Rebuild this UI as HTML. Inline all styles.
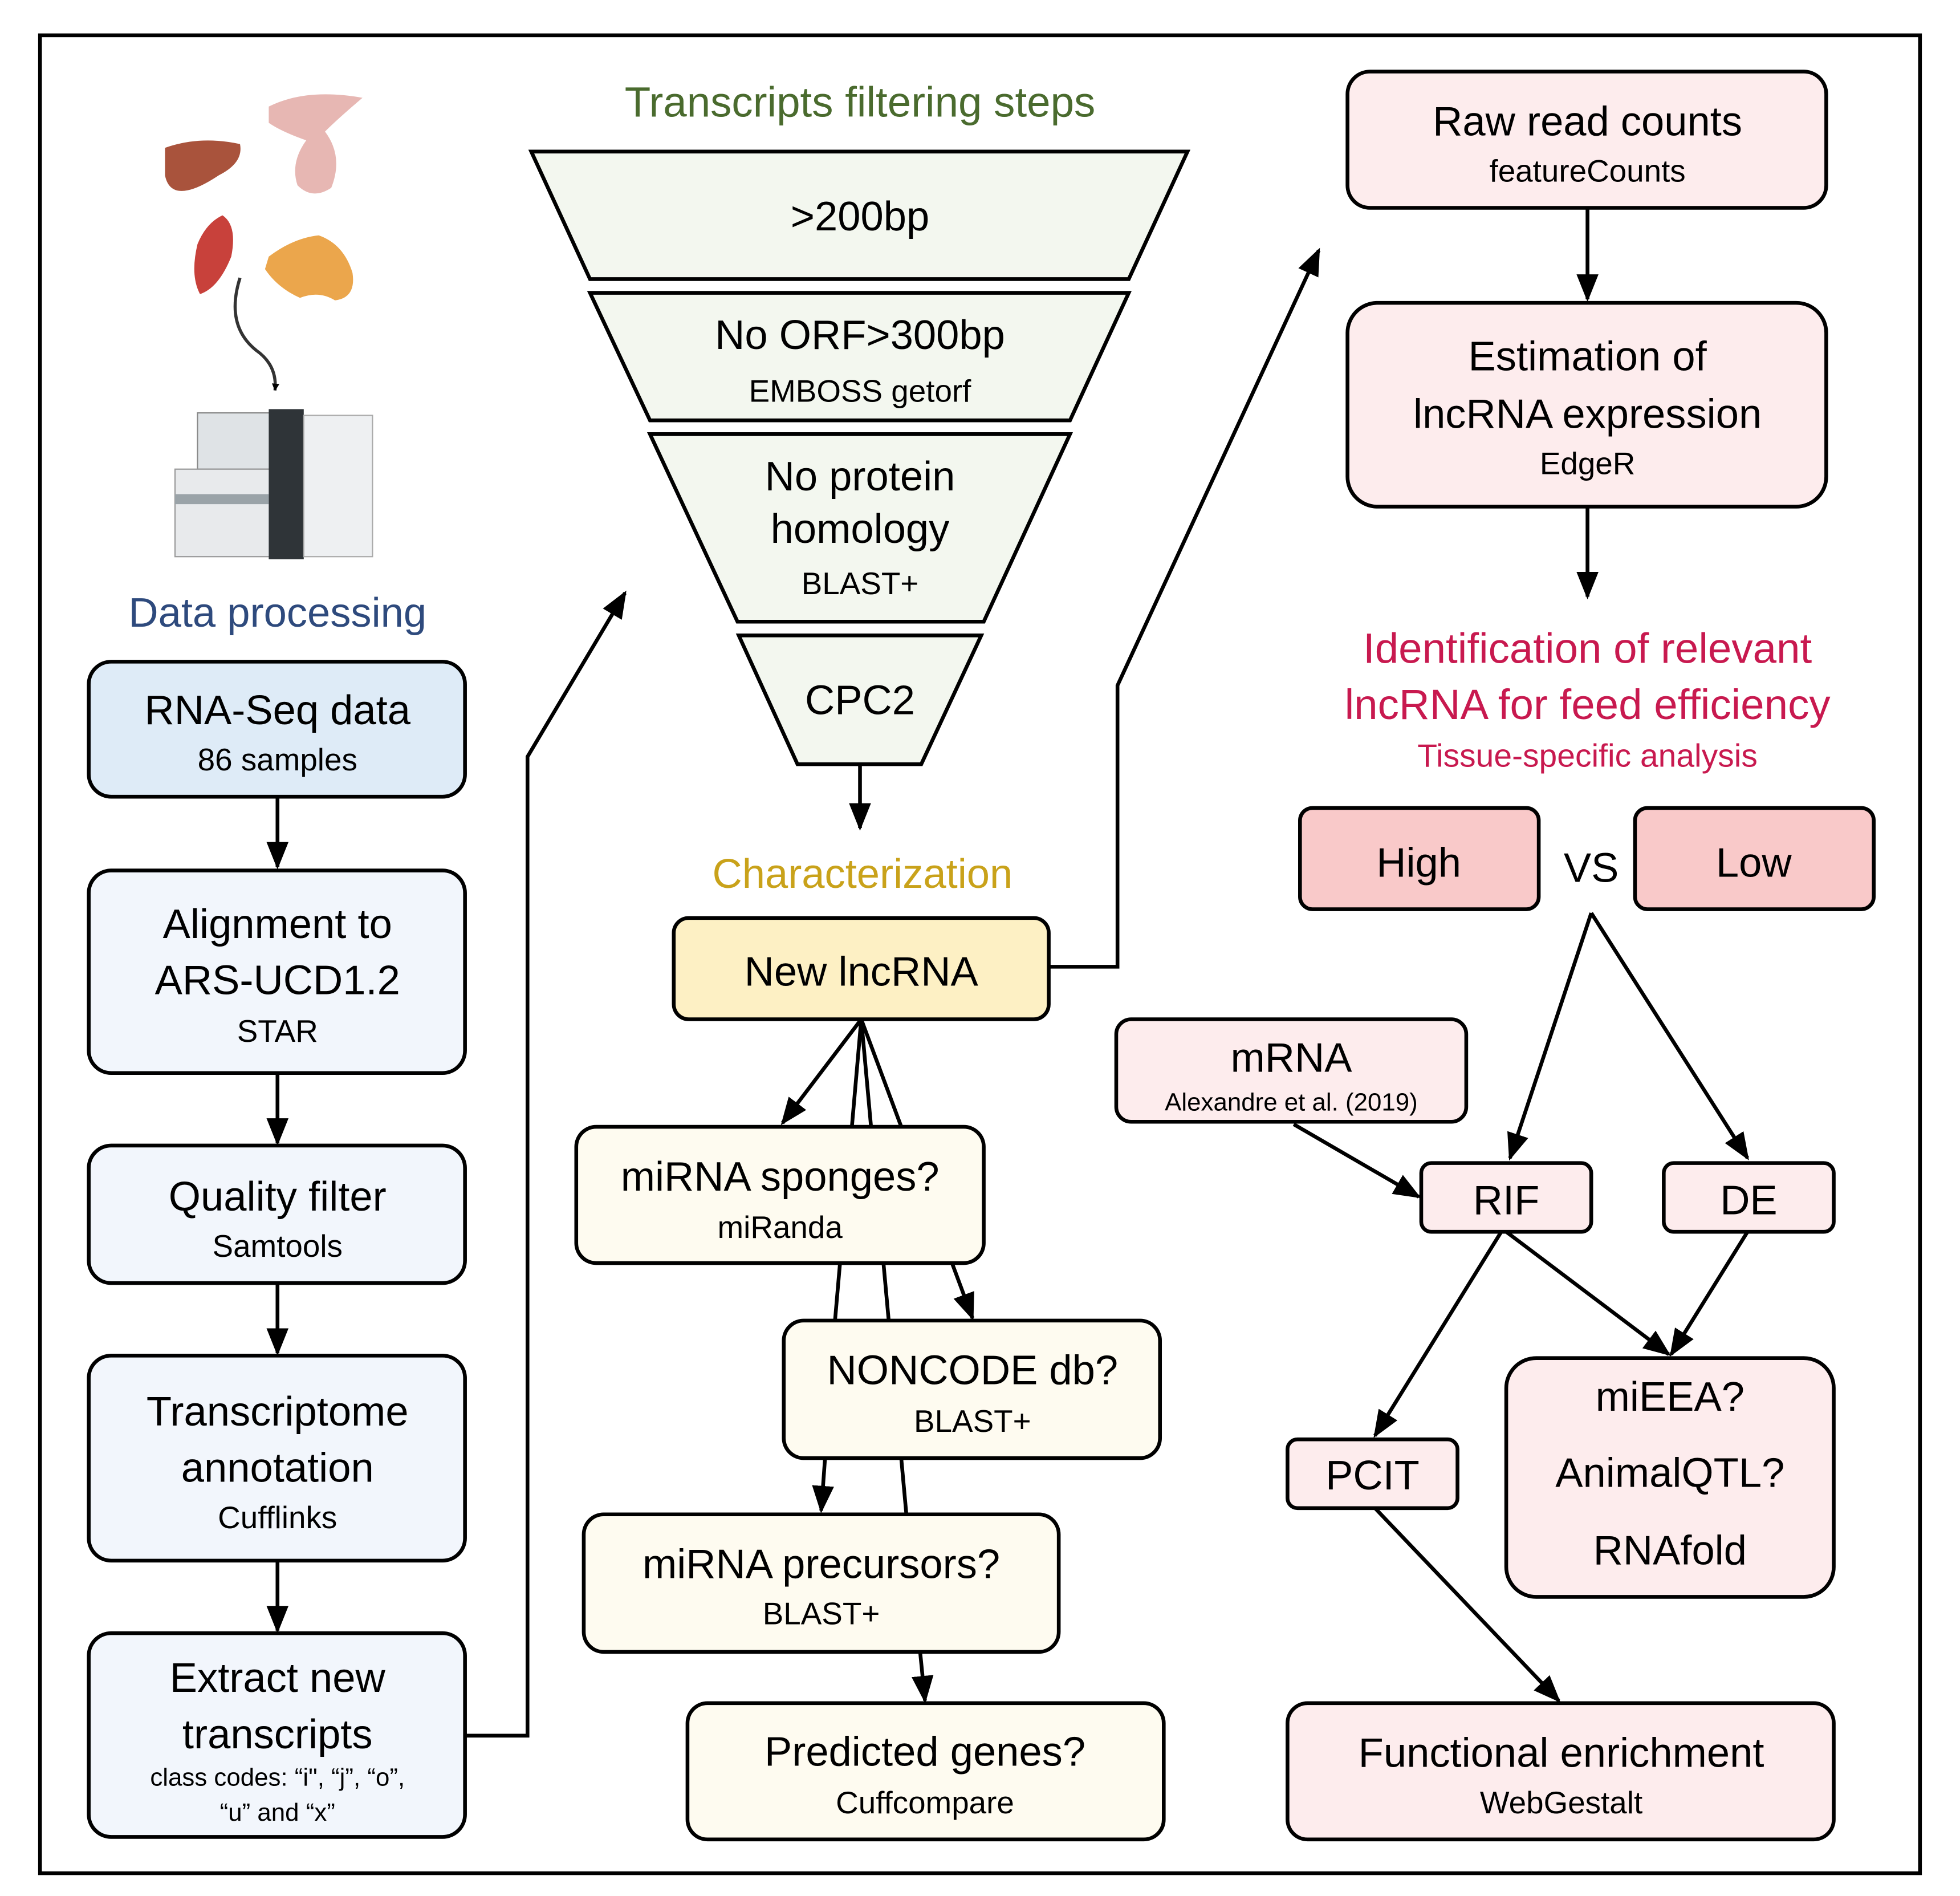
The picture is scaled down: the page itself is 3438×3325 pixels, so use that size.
<!DOCTYPE html>
<html><head><meta charset="utf-8"><style>
html,body{margin:0;padding:0;background:#fff;}
svg{display:block;}
text{font-family:"Liberation Sans",sans-serif;text-anchor:middle;}
</style></head><body>
<svg width="3438" height="3325" viewBox="0 0 1568 1516" xmlns="http://www.w3.org/2000/svg">
<defs>
<marker id="a" viewBox="0 0 10 10" refX="9" refY="5" markerWidth="6" markerHeight="6" orient="auto-start-reverse" markerUnits="userSpaceOnUse"><path d="M0,0 L10,5 L0,10 z" fill="#000"/></marker>
<marker id="b" viewBox="0 0 10 10" refX="9" refY="5" markerWidth="22" markerHeight="22" orient="auto" markerUnits="userSpaceOnUse"><path d="M0,1 L10,5 L0,9 z" fill="#000"/></marker>
</defs>
<rect width="1568" height="1516" fill="#fff"/>
<rect x="32" y="28" width="1504" height="1470" fill="none" stroke="#000" stroke-width="3"/>

<path d="M132,118 Q160,108 192,115 Q195,130 175,140 Q160,150 150,152 Q135,155 132,140 z" fill="#a9533c"/>
<path d="M215,85 Q245,70 290,78 Q270,95 260,105 Q275,125 265,150 Q250,160 238,148 Q232,130 245,112 Q225,105 215,98 z" fill="#e7b7b3"/>
<path d="M178,172 Q190,180 185,205 Q175,230 160,235 Q152,220 158,195 Q165,178 178,172 z" fill="#c8413b"/>
<path d="M215,205 Q235,190 255,188 Q275,195 282,218 Q285,238 268,240 Q255,232 240,238 Q222,230 212,215 z" fill="#eba64c"/>
<path d="M192,222 Q180,260 205,280 Q222,292 220,312" fill="none" stroke="#333" stroke-width="2.5" marker-end="url(#a)"/>
<rect x="158" y="330" width="60" height="45" fill="#dfe3e6" stroke="#888"/>
<rect x="140" y="375" width="90" height="70" fill="#e8eaec" stroke="#999"/>
<rect x="215" y="327" width="28" height="120" fill="#2f3438"/>
<rect x="243" y="332" width="55" height="113" fill="#eef0f2" stroke="#aaa"/>
<rect x="140" y="395" width="75" height="8" fill="#9aa3a8"/>

<text x="222" y="501" font-size="33" fill="#2e4a7d">Data processing</text>
<text x="688" y="93" font-size="34" fill="#4a6b2e">Transcripts filtering steps</text>

<g stroke="#000" stroke-width="3">
<rect x="71" y="529" width="301" height="108" rx="18" fill="#deebf7"/>
<rect x="71" y="696" width="301" height="162" rx="18" fill="#f2f6fc"/>
<rect x="71" y="916" width="301" height="110" rx="18" fill="#f2f6fc"/>
<rect x="71" y="1084" width="301" height="164" rx="18" fill="#f2f6fc"/>
<rect x="71" y="1306" width="301" height="163" rx="18" fill="#f2f6fc"/>
<polygon points="425,121 950,121 903,223 472,223" fill="#f3f7ef"/>
<polygon points="472,234 903,234 856,336 520,336" fill="#f3f7ef"/>
<polygon points="520,347 856,347 787,497 590,497" fill="#f3f7ef"/>
<polygon points="591,508 785,508 737,611 638,611" fill="#f3f7ef"/>
</g>

<g stroke="#000" stroke-width="3" fill="none">
<line x1="222" y1="637" x2="222" y2="693" marker-end="url(#b)"/>
<line x1="222" y1="858" x2="222" y2="914" marker-end="url(#b)"/>
<line x1="222" y1="1026" x2="222" y2="1082" marker-end="url(#b)"/>
<line x1="222" y1="1248" x2="222" y2="1304" marker-end="url(#b)"/>
<polyline points="372,1388 422,1388 422,605 500,474" marker-end="url(#b)"/>
<line x1="688" y1="611" x2="688" y2="662" marker-end="url(#b)"/>
<polyline points="839,773 894,773 894,548 1055,200" marker-end="url(#b)"/>
<line x1="689" y1="815" x2="626" y2="898" marker-end="url(#b)"/>
<polyline points="689,815 668,1056 657,1208" marker-end="url(#b)"/>
<polyline points="689,815 725,1210 740,1360" marker-end="url(#b)"/>
<line x1="689" y1="815" x2="778" y2="1054" marker-end="url(#b)"/>
<line x1="1270" y1="166" x2="1270" y2="239" marker-end="url(#b)"/>
<line x1="1270" y1="405" x2="1270" y2="477" marker-end="url(#b)"/>
<line x1="1273" y1="730" x2="1208" y2="926" marker-end="url(#b)"/>
<line x1="1273" y1="730" x2="1398" y2="926" marker-end="url(#b)"/>
<line x1="1035" y1="899" x2="1135" y2="957" marker-end="url(#b)"/>
<line x1="1201" y1="985" x2="1100" y2="1148" marker-end="url(#b)"/>
<line x1="1205" y1="985" x2="1335" y2="1083" marker-end="url(#b)"/>
<line x1="1398" y1="985" x2="1337" y2="1083" marker-end="url(#b)"/>
<line x1="1100" y1="1206" x2="1247" y2="1360" marker-end="url(#b)"/>
</g>

<g stroke="#000" stroke-width="3">
<rect x="539" y="734" width="300" height="81" rx="12" fill="#fdf0c4"/>
<rect x="461" y="901" width="326" height="109" rx="16" fill="#fefbf0"/>
<rect x="627" y="1056" width="301" height="110" rx="16" fill="#fefbf0"/>
<rect x="467" y="1211" width="380" height="110" rx="16" fill="#fefbf0"/>
<rect x="550" y="1362" width="381" height="109" rx="16" fill="#fefbf0"/>
<rect x="1078" y="57" width="383" height="109" rx="18" fill="#fdeced"/>
<rect x="1078" y="242" width="383" height="163" rx="24" fill="#fdeced"/>
<rect x="1040" y="646" width="191" height="81" rx="10" fill="#f9c9c9"/>
<rect x="1308" y="646" width="191" height="81" rx="10" fill="#f9c9c9"/>
<rect x="893" y="815" width="280" height="82" rx="12" fill="#fdeced"/>
<rect x="1137" y="930" width="136" height="55" rx="8" fill="#fdeced"/>
<rect x="1331" y="930" width="136" height="55" rx="8" fill="#fdeced"/>
<rect x="1030" y="1151" width="136" height="55" rx="8" fill="#fdeced"/>
<rect x="1205" y="1086" width="262" height="191" rx="24" fill="#fdeced"/>
<rect x="1030" y="1362" width="437" height="109" rx="16" fill="#fdeced"/>
</g>

<g font-size="33" fill="#000">
<text x="222" y="579">RNA-Seq data</text>
<text x="222" y="750">Alignment to</text>
<text x="222" y="795">ARS-UCD1.2</text>
<text x="222" y="968">Quality filter</text>
<text x="222" y="1140">Transcriptome</text>
<text x="222" y="1185">annotation</text>
<text x="222" y="1353">Extract new</text>
<text x="222" y="1398">transcripts</text>
<text x="688" y="184">&gt;200bp</text>
<text x="688" y="279">No ORF&gt;300bp</text>
<text x="688" y="392">No protein</text>
<text x="688" y="434">homology</text>
<text x="688" y="571">CPC2</text>
<text x="689" y="788">New lncRNA</text>
<text x="624" y="952">miRNA sponges?</text>
<text x="778" y="1107">NONCODE db?</text>
<text x="657" y="1262">miRNA precursors?</text>
<text x="740" y="1412">Predicted genes?</text>
<text x="1270" y="108">Raw read counts</text>
<text x="1270" y="296">Estimation of</text>
<text x="1270" y="342">lncRNA expression</text>
<text x="1135" y="701">High</text>
<text x="1273" y="705">VS</text>
<text x="1403" y="701">Low</text>
<text x="1033" y="857">mRNA</text>
<text x="1205" y="971">RIF</text>
<text x="1399" y="971">DE</text>
<text x="1098" y="1191">PCIT</text>
<text x="1336" y="1128">miEEA?</text>
<text x="1336" y="1189">AnimalQTL?</text>
<text x="1336" y="1251">RNAfold</text>
<text x="1249" y="1413">Functional enrichment</text>
</g>
<g font-size="25" fill="#000">
<text x="222" y="616">86 samples</text>
<text x="222" y="833">STAR</text>
<text x="222" y="1005">Samtools</text>
<text x="222" y="1222">Cufflinks</text>
<text x="688" y="321">EMBOSS getorf</text>
<text x="688" y="475">BLAST+</text>
<text x="624" y="990">miRanda</text>
<text x="778" y="1145">BLAST+</text>
<text x="657" y="1299">BLAST+</text>
<text x="740" y="1450">Cuffcompare</text>
<text x="1270" y="145">featureCounts</text>
<text x="1270" y="379">EdgeR</text>
<text x="1249" y="1450">WebGestalt</text>
</g>
<text x="222" y="1428" font-size="20">class codes: “i", “j”, “o”,</text>
<text x="222" y="1456" font-size="20">“u” and “x”</text>
<text x="1033" y="888" font-size="20">Alexandre et al. (2019)</text>
<text x="690" y="710" font-size="33" fill="#c9a21a">Characterization</text>
<text x="1270" y="530" font-size="34" fill="#c8194f">Identification of relevant</text>
<text x="1270" y="575" font-size="34" fill="#c8194f">lncRNA for feed efficiency</text>
<text x="1270" y="613" font-size="26" fill="#c8194f">Tissue-specific analysis</text>
</svg>
</body></html>
